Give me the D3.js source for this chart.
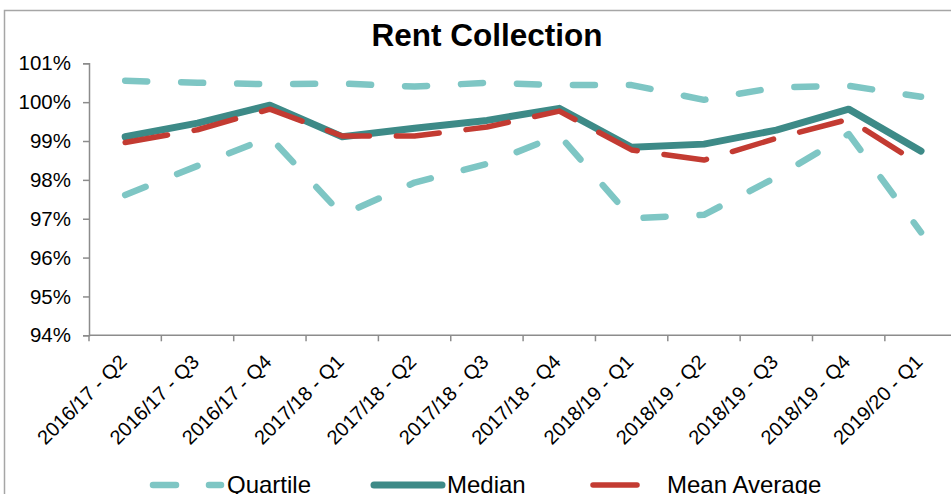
<!DOCTYPE html>
<html>
<head>
<meta charset="utf-8">
<script src="https://cdn.jsdelivr.net/npm/d3@7"></script>
<style>
  html, body { margin: 0; padding: 0; background: #fff; overflow: hidden; }
  svg { display: block; font-family: Arial, "Liberation Sans", sans-serif; }
</style>
</head>
<body>
<svg id="chart" width="951" height="494"></svg>
<script>
// Quarterly rent collection rates (%)
const categories = [
  "2016/17 - Q2", "2016/17 - Q3", "2016/17 - Q4", "2017/18 - Q1",
  "2017/18 - Q2", "2017/18 - Q3", "2017/18 - Q4", "2018/19 - Q1",
  "2018/19 - Q2", "2018/19 - Q3", "2018/19 - Q4", "2019/20 - Q1"
];
const upperQuartile = [100.55, 100.50, 100.46, 100.48, 100.40, 100.50, 100.44, 100.44, 100.06, 100.38, 100.42, 100.14];
const lowerQuartile = [97.61, 98.36, 99.10, 97.10, 97.93, 98.41, 99.15, 97.01, 97.10, 98.07, 99.18, 96.65];
const median        = [99.11, 99.46, 99.92, 99.11, 99.33, 99.53, 99.84, 98.84, 98.92, 99.28, 99.82, 98.74];
const meanAverage   = [98.96, 99.29, 99.82, 99.13, 99.13, 99.36, 99.77, 98.77, 98.51, 99.07, 99.56, 98.38];
const yTicks = [94, 95, 96, 97, 98, 99, 100, 101];
const legendLabels = ["Quartile", "Median", "Mean Average"];

const colLight = "#7ec6c4", colDark = "#3d8a87", colRed = "#c33b32";

const svg = d3.select("#chart");

// outer frame
svg.append("path")
  .attr("d", "M4.5,494 V10.5 H951")
  .attr("fill", "none").attr("stroke", "#a6a6a6").attr("stroke-width", 1.5);

// title
svg.append("text")
  .attr("x", 487).attr("y", 46)
  .attr("text-anchor", "middle")
  .attr("font-size", 31.5).attr("font-weight", "bold")
  .text("Rent Collection");

const plotLeft = 89, plotTop = 63.3, plotBottom = 335.3, step = 72.35;
const x = d3.scaleBand().domain(categories).range([plotLeft, plotLeft + step * categories.length]);
const y = d3.scaleLinear().domain([94, 101]).range([plotBottom, plotTop]);

// y axis
const yAxis = svg.append("g").attr("transform", `translate(${plotLeft},0)`)
  .call(d3.axisLeft(y).tickValues(yTicks).tickSize(6).tickPadding(12).tickFormat(d => d + "%"));
yAxis.select(".domain").attr("stroke", "#8c8c8c").attr("stroke-width", 1.5);
yAxis.selectAll(".tick line").attr("stroke", "#8c8c8c").attr("stroke-width", 1.5);
yAxis.selectAll(".tick text").attr("font-size", 20.5).attr("fill", "#000")
  .attr("font-family", "Arial, 'Liberation Sans', sans-serif");

// x axis: baseline, ticks between categories, rotated labels
const xg = svg.append("g");
xg.append("line")
  .attr("x1", plotLeft).attr("x2", 951).attr("y1", plotBottom).attr("y2", plotBottom)
  .attr("stroke", "#8c8c8c").attr("stroke-width", 1.5);
xg.selectAll("line.tk").data(categories).join("line").attr("class", "tk")
  .attr("x1", d => x(d)).attr("x2", d => x(d))
  .attr("y1", plotBottom).attr("y2", plotBottom + 6)
  .attr("stroke", "#8c8c8c").attr("stroke-width", 1.5);
xg.selectAll("text").data(categories).join("text")
  .attr("transform", d => `translate(${x(d) + x.bandwidth() / 2 - 2},${plotBottom + 23}) rotate(-45)`)
  .attr("text-anchor", "end")
  .attr("dy", "0.35em")
  .attr("font-size", 20)
  .text(d => d);

// series lines
const line = d3.line()
  .x((d, i) => x(categories[i]) + x.bandwidth() / 2)
  .y(d => y(d));

const series = [
  { values: upperQuartile, color: colLight, width: 6.5, dash: "22,34" },
  { values: lowerQuartile, color: colLight, width: 6.5, dash: "22,34" },
  { values: median, color: colDark, width: 7, dash: null },
  { values: meanAverage, color: colRed, width: 5.5, dash: "43,27" }
];
svg.append("g").selectAll("path").data(series).join("path")
  .attr("d", d => line(d.values))
  .attr("fill", "none")
  .attr("stroke", d => d.color)
  .attr("stroke-width", d => d.width)
  .attr("stroke-linecap", "round")
  .attr("stroke-linejoin", "round")
  .attr("stroke-dasharray", d => d.dash);

// legend
const lg = svg.append("g").attr("font-size", 24);
const ly = 485, ty = 493;
lg.append("line").attr("x1", 153).attr("x2", 176).attr("y1", ly).attr("y2", ly)
  .attr("stroke", colLight).attr("stroke-width", 6.5).attr("stroke-linecap", "round");
lg.append("line").attr("x1", 209).attr("x2", 221).attr("y1", ly).attr("y2", ly)
  .attr("stroke", colLight).attr("stroke-width", 6.5).attr("stroke-linecap", "round");
lg.append("text").attr("x", 227).attr("y", ty).text(legendLabels[0]);
lg.append("line").attr("x1", 374).attr("x2", 442).attr("y1", ly).attr("y2", ly)
  .attr("stroke", colDark).attr("stroke-width", 7).attr("stroke-linecap", "round");
lg.append("text").attr("x", 447).attr("y", ty).text(legendLabels[1]);
lg.append("line").attr("x1", 593).attr("x2", 637).attr("y1", ly).attr("y2", ly)
  .attr("stroke", colRed).attr("stroke-width", 5.5).attr("stroke-linecap", "round");
lg.append("text").attr("x", 667).attr("y", ty).text(legendLabels[2]);
</script>
</body>
</html>
